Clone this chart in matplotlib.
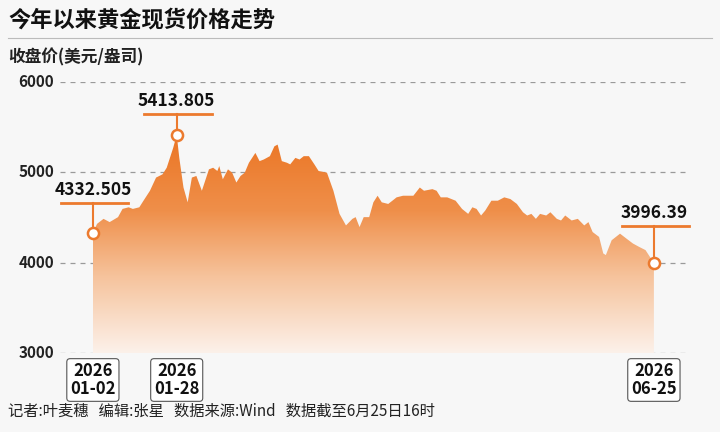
import numpy as np
import matplotlib.pyplot as plt
from matplotlib.colors import LinearSegmentedColormap

plt.rcParams['font.family'] = ['Noto Sans CJK SC', 'DejaVu Sans']

# days since 2026-01-02, spot price (USD/oz)
days = [0, 1.3, 3.3, 5.2, 7.8, 9.2, 11.1, 12.4, 14.4, 15.7, 17.7, 19.6, 21.6, 22.9, 24.9, 26,
        26.8, 28.1, 29.4, 30.7, 32.1, 33.8, 36, 37.3, 38.6, 39.2, 40.3, 41.9, 43.2, 44.5, 45.8,
        47.1, 48.4, 50.4, 51.7, 53, 54.9, 56.3, 57.3, 58.6, 60.2, 61.2, 62.8, 64.1, 65.4, 67,
        68.7, 70, 72.6, 74.6, 76.5, 78.5, 80.5, 81.5, 82.7, 84, 85.7, 87, 88.3, 89.6, 91.6,
        92.9, 94.2, 96.2, 99.4, 101.4, 102.7, 105.3, 106.6, 107.9, 109.9, 112.5, 114.5, 116.4,
        117.7, 119, 120.4, 121.7, 123.6, 125.6, 127.6, 129.5, 131.5, 133.4, 134.7, 136, 137.4,
        138.7, 140.6, 141.9, 143.9, 145.2, 146.5, 148.5, 150.4, 152.4, 153.7, 155, 157, 158.3,
        159.1, 160.9, 163.5, 165.5, 167.5, 169.4, 171.4, 174]
prices = [4332.505, 4430, 4485, 4449, 4504, 4595, 4613, 4595, 4613, 4686, 4796, 4942, 4978, 5051,
          5270, 5413.805, 5160, 4832, 4668, 4942, 4960, 4796, 5033, 5051, 5015, 5069, 4923, 5033,
          4996, 4887, 4960, 4996, 5106, 5215, 5124, 5142, 5179, 5288, 5307, 5124, 5106, 5088,
          5160, 5142, 5179, 5179, 5088, 5015, 4996, 4796, 4540, 4412, 4485, 4504, 4394, 4504,
          4504, 4668, 4741, 4668, 4650, 4686, 4723, 4741, 4741, 4832, 4796, 4814, 4796, 4723,
          4723, 4686, 4595, 4540, 4613, 4595, 4522, 4577, 4686, 4686, 4723, 4704, 4650, 4558,
          4522, 4540, 4485, 4540, 4522, 4558, 4485, 4467, 4522, 4467, 4485, 4412, 4449, 4339,
          4285, 4102, 4084, 4248, 4321, 4266, 4212, 4175, 4139, 3996.39]

marks = [(0, 4332.505, "4332.505", "2026\n01-02"),
         (26, 5413.805, "5413.805", "2026\n01-28"),
         (174, 3996.39, "3996.39", "2026\n06-25")]
orange = "#ec7a2e"
bg = "#f7f7f7"

fig = plt.figure(figsize=(7.2, 4.32), dpi=100, facecolor=bg)
ax = fig.add_axes([60 / 720, 1 - 353 / 432, 630 / 720, 271 / 432], facecolor=bg)
ax.set_xlim(-10.2, 185.2)
ax.set_ylim(3000, 6000)

# gradient area
cmap = LinearSegmentedColormap.from_list(
    "g", [(0, "#fcf1ea"), (0.35, "#f6c39c"), (0.65, "#ef8f4a"), (1, "#eb7524")])
grad = np.linspace(0, 1, 256).reshape(-1, 1)
im = ax.imshow(grad, aspect="auto", cmap=cmap, origin="lower",
               extent=[0, 174, 3000, 5420], zorder=1)
poly = ax.fill_between(days, prices, 3000, color="none", lw=0)
im.set_clip_path(poly.get_paths()[0], transform=ax.transData)

for v in [3000, 4000, 5000, 6000]:
    ax.axhline(v, color="#9a9a9a", ls=(0, (4, 4)), lw=0.9, zorder=0)
    ax.text(-12, v, str(v), ha="right", va="center", fontsize=11,
            fontweight="bold", color="#222222")

px = 1000 / 90.3  # price units per pixel
for d, p, lab, date in marks:
    h = 30 if d == 0 else (21 if d == 26 else 37)
    top = p + h * px
    ax.plot([d - 10, d + 11], [top, top], color=orange, lw=2, zorder=3, clip_on=False)
    ax.plot([d, d], [top, p], color=orange, lw=1.5, zorder=3)
    ax.plot(d, p, "o", ms=8, mfc="white", mec=orange, mew=1.8, zorder=4)
    ax.text(d, top + 4 * px, lab, ha="center", va="bottom", fontsize=12.5,
            fontweight="bold", color="#111111")
    ax.text(d, 3000 - 9 * px, date, ha="center", va="top", fontsize=12,
            fontweight="bold", color="#111111", linespacing=1.0,
            bbox=dict(boxstyle="round,pad=0.2", fc="white", ec="#555555", lw=0.8))

for s in ax.spines.values():
    s.set_visible(False)
ax.set_xticks([])
ax.set_yticks([])

fig.text(8 / 720, 1 - 20 / 432, "今年以来黄金现货价格走势", fontsize=16, fontweight="bold",
         va="center", color="#111111")
fig.add_artist(plt.Line2D([8 / 720, 712 / 720], [1 - 38 / 432] * 2, color="#bbbbbb", lw=0.8))
fig.text(8 / 720, 1 - 57 / 432, "收盘价(美元/盎司)", fontsize=12, fontweight="bold",
         va="center", color="#222222")
fig.text(8 / 720, 1 - 411 / 432, "记者:叶麦穗   编辑:张星   数据来源:Wind   数据截至6月25日16时",
         fontsize=11, va="center", color="#222222")

fig.savefig("out.png", dpi=100, facecolor=bg)
